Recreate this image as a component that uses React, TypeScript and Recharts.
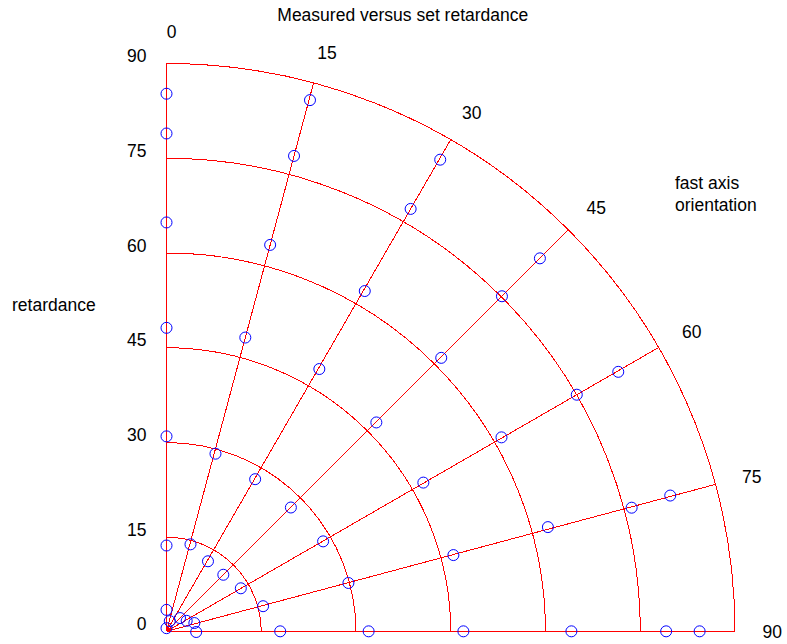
import React from 'react';
import { PieChart, Pie, ScatterChart, Scatter, XAxis, YAxis, ReferenceLine } from 'recharts';

// ---- data ----
const fastAxisOrientations = [0, 15, 30, 45, 60, 75, 90];
const retardanceTicks = [0, 15, 30, 45, 60, 75, 90];

// measured retardance / measured orientation for each set fast axis orientation
const ret0 = [85.2, 78.9, 64.8, 48.1, 30.9, 13.6, 3.4, 0.5];
const ang0 = [0, 0, 0, 0, 0, 0, 0, 0];
const ret15 = [87.2, 78.0, 63.4, 48.2, 29.2, 14.3, 1.7];
const ang15 = [15.1, 15.0, 15.0, 15.0, 15.4, 15.4, 17.6];
const ret30 = [86.4, 77.3, 62.4, 48.1, 27.9, 12.9];
const ang30 = [30.1, 30.0, 30.2, 30.2, 30.2, 30.6];
const ret45 = [83.6, 75.1, 61.4, 46.9, 27.8, 12.7, 3.0];
const ang45 = [45.0, 45.0, 45.1, 45.1, 45.1, 45.1, 45.5];
const ret60 = [82.5, 75.0, 61.3, 47.0, 28.6, 13.6, 3.6];
const ang60 = [60.1, 60.0, 59.9, 59.9, 60.1, 59.9, 62.5];
const ret75 = [82.6, 76.2, 62.6, 47.0, 29.8, 15.8, 4.6];
const ang75 = [74.9, 75.1, 74.7, 75.1, 75.1, 75.4, 73.4];
const ret90 = [84.4, 79.1, 64.1, 47.0, 32.0, 18.0, 4.7];
const ang90 = [90, 90, 90, 90, 90, 90, 91.3];

const title = 'Measured versus set retardance';
const radialTitle = 'retardance';
const angleTitle = ['fast axis', 'orientation'];

// ---- layout ----
const W = 787;
const H = 644;
const CX = 166.5;
const CY = 632;
const PX_PER_UNIT = 568.5 / 90;
const AXIS_MAX = 98;
const PLOT = AXIS_MAX * PX_PER_UNIT;
const Y_AXIS_W = 60;
const LABEL_R = 95.1;
const FONT = '"Liberation Sans", Arial, sans-serif';
const FS = 17.5;
const RED = '#ff0000';
const BLUE = '#0000ff';

const toXY = (angleDeg: number, r: number) => {
  const t = (angleDeg * Math.PI) / 180;
  return { x: r * Math.sin(t), y: r * Math.cos(t) };
};

const series = [
  { ret: ret0, ang: ang0 },
  { ret: ret15, ang: ang15 },
  { ret: ret30, ang: ang30 },
  { ret: ret45, ang: ang45 },
  { ret: ret60, ang: ang60 },
  { ret: ret75, ang: ang75 },
  { ret: ret90, ang: ang90 },
];

const points = series.flatMap((s) => s.ret.map((r, i) => toXY(s.ang[i], r)));
const labelPoints = fastAxisOrientations.map((a) => ({ ...toXY(a, LABEL_R), label: String(a) }));
const ringData = [{ value: 1 }];
const outerRet = retardanceTicks[retardanceTicks.length - 1];

const renderCircle = (props: any) => (
  <circle cx={props.cx} cy={props.cy} r={5.5} fill="none" stroke={BLUE} strokeWidth={1} />
);

const renderLabel = (props: any) => (
  <text
    x={props.cx + 5}
    y={props.cy + 1}
    textAnchor="middle"
    dominantBaseline="central"
    fontFamily={FONT}
    fontSize={FS}
    fill="#000"
  >
    {props.payload?.label}
  </text>
);

const renderYTick = (props: any) => (
  <text
    x={props.x}
    y={props.y - 7}
    textAnchor="end"
    dominantBaseline="central"
    fontFamily={FONT}
    fontSize={FS}
    fill="#000"
  >
    {props.payload.value}
  </text>
);

export default function App() {
  return (
    <div style={{ position: 'absolute', left: 0, top: 0, width: W, height: H, background: '#fff' }}>
      <div style={{ position: 'absolute', left: 0, top: 0 }}>
        <PieChart width={W} height={H} margin={{ top: 0, right: 0, bottom: 0, left: 0 }}>
          {retardanceTicks.slice(1).map((t) => (
            <Pie
              key={t}
              data={ringData}
              dataKey="value"
              cx={CX}
              cy={CY}
              innerRadius={t * PX_PER_UNIT}
              outerRadius={t * PX_PER_UNIT}
              startAngle={90}
              endAngle={0}
              paddingAngle={0}
              stroke={RED}
              strokeWidth={1}
              fill="none"
              shapeRendering="crispEdges"
              isAnimationActive={false}
            />
          ))}
        </PieChart>
      </div>
      <div style={{ position: 'absolute', left: 0, top: 0 }}>
        <ScatterChart
          width={W}
          height={H}
          margin={{ top: CY - PLOT, right: W - CX - PLOT, bottom: H - CY, left: CX - Y_AXIS_W }}
        >
          <XAxis type="number" dataKey="x" domain={[0, AXIS_MAX]} hide />
          <YAxis
            type="number"
            dataKey="y"
            domain={[0, AXIS_MAX]}
            ticks={retardanceTicks}
            interval={0}
            width={Y_AXIS_W}
            axisLine={false}
            tickLine={false}
            tickSize={0}
            tickMargin={20}
            tick={renderYTick}
          />
          {fastAxisOrientations.map((a) => (
            <ReferenceLine
              key={a}
              segment={[{ x: 0, y: 0 }, toXY(a, outerRet)]}
              stroke={RED}
              strokeWidth={1}
              shapeRendering="crispEdges"
              ifOverflow="visible"
            />
          ))}
          <Scatter data={points} shape={renderCircle} isAnimationActive={false} />
          <Scatter data={labelPoints} shape={renderLabel} isAnimationActive={false} />
        </ScatterChart>
      </div>
      <svg
        width={W}
        height={H}
        style={{ position: 'absolute', left: 0, top: 0, pointerEvents: 'none' }}
      >
        <text x={402.8} y={15} textAnchor="middle" dominantBaseline="central" fontFamily={FONT} fontSize={FS} fill="#000">
          {title}
        </text>
        <text x={12} y={305} textAnchor="start" dominantBaseline="central" fontFamily={FONT} fontSize={FS} fill="#000">
          {radialTitle}
        </text>
        <text x={675} y={183} textAnchor="start" dominantBaseline="central" fontFamily={FONT} fontSize={FS} fill="#000">
          {angleTitle[0]}
        </text>
        <text x={675} y={205} textAnchor="start" dominantBaseline="central" fontFamily={FONT} fontSize={FS} fill="#000">
          {angleTitle[1]}
        </text>
      </svg>
    </div>
  );
}
